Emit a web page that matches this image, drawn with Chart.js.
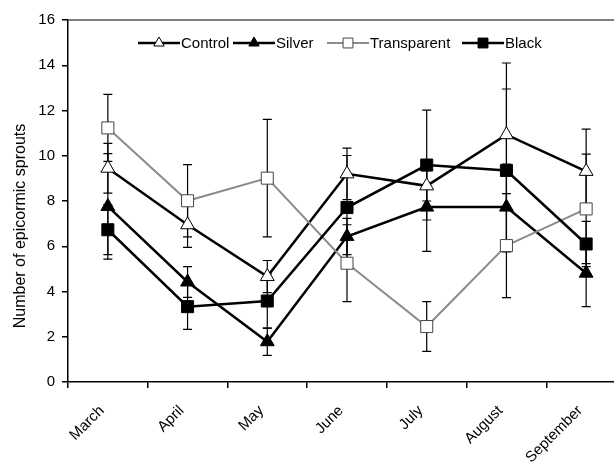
<!DOCTYPE html>
<html>
<head>
<meta charset="utf-8">
<script src="https://cdn.jsdelivr.net/npm/chart.js@4/dist/chart.umd.min.js"></script>
<style>
  html, body { margin: 0; padding: 0; background: #fff; overflow: hidden; width: 614px; height: 463px; }
  canvas { display: block; }
</style>
</head>
<body>
<canvas id="c" width="640" height="463"></canvas>
<script>
const months = ['March', 'April', 'May', 'June', 'July', 'August', 'September'];
const yTicks = [0, 2, 4, 6, 8, 10, 12, 14, 16];
const yTitle = 'Number of epicormic sprouts';

const controlVals = [9.45, 6.95, 4.66, 9.2, 8.67, 10.93, 9.31];
const controlErr  = [1.1, 1.0, 0.71, 1.14, 0.67, 3.17, 1.87];
const silverVals  = [7.76, 4.42, 1.78, 6.43, 7.73, 7.73, 4.81];
const silverErr   = [2.33, 0.68, 0.6, 0.8, 1.96, 1.9, 1.48];
const transpVals  = [11.23, 8.01, 9.01, 5.25, 2.45, 6.03, 7.65];
const transpErr   = [1.48, 1.6, 2.6, 1.7, 1.1, 2.3, 2.42];
const blackVals   = [6.73, 3.33, 3.58, 7.71, 9.59, 9.35, 6.1];
const blackErr    = [1.1, 1.0, 1.2, 2.3, 2.43, 3.6, 1.0];

const FONT = 'Liberation Sans, Arial, sans-serif';

const errorBars = {
  id: 'errorBars',
  beforeDatasetsDraw(chart) {
    const ctx = chart.ctx;
    const ys = chart.scales.y;
    ctx.save();
    ctx.strokeStyle = '#000';
    ctx.lineWidth = 1.2;
    chart.data.datasets.forEach((ds, i) => {
      const meta = chart.getDatasetMeta(i);
      ds.errors.forEach((e, j) => {
        const p = meta.data[j];
        const v = ds.data[j];
        const yt = ys.getPixelForValue(v + e);
        const yb = ys.getPixelForValue(v - e);
        const x = p.x;
        ctx.beginPath();
        ctx.moveTo(x, yt); ctx.lineTo(x, yb);
        ctx.moveTo(x - 4.5, yt); ctx.lineTo(x + 4.5, yt);
        ctx.moveTo(x - 4.5, yb); ctx.lineTo(x + 4.5, yb);
        ctx.stroke();
      });
    });
    ctx.restore();
  }
};

const frame = {
  id: 'frame',
  beforeDatasetsDraw(chart) {
    const { ctx, chartArea: a } = chart;
    ctx.save();
    ctx.strokeStyle = '#555';
    ctx.lineWidth = 1.5;
    ctx.beginPath();
    ctx.moveTo(a.left, a.top);
    ctx.lineTo(a.right, a.top);
    ctx.lineTo(a.right, a.bottom);
    ctx.stroke();
    ctx.restore();
  }
};

const axisTitle = {
  id: 'axisTitle',
  afterDraw(chart) {
    const ctx = chart.ctx;
    const a = chart.chartArea;
    ctx.save();
    ctx.translate(21, (a.top + a.bottom) / 2 + 25);
    ctx.rotate(-Math.PI / 2);
    ctx.font = '16px ' + FONT;
    ctx.fillStyle = '#000';
    ctx.textAlign = 'center';
    ctx.textBaseline = 'middle';
    ctx.fillText(yTitle, 0, 0);
    ctx.restore();
  }
};

function drawMarker(ctx, ds, x, y) {
  const r = ds.pointRadius;
  ctx.save();
  ctx.fillStyle = ds.pointBackgroundColor;
  ctx.strokeStyle = ds.pointBorderColor;
  ctx.lineWidth = ds.pointBorderWidth;
  ctx.beginPath();
  if (ds.pointStyle === 'triangle') {
    let rad = 0;
    ctx.moveTo(x + Math.sin(rad) * r, y - Math.cos(rad) * r);
    rad += 2 * Math.PI / 3;
    ctx.lineTo(x + Math.sin(rad) * r, y - Math.cos(rad) * r);
    rad += 2 * Math.PI / 3;
    ctx.lineTo(x + Math.sin(rad) * r, y - Math.cos(rad) * r);
    ctx.closePath();
  } else {
    const s = r * Math.SQRT1_2;
    ctx.rect(x - s, y - s, 2 * s, 2 * s);
  }
  ctx.fill();
  ctx.stroke();
  ctx.restore();
}

const customLegend = {
  id: 'customLegend',
  afterDraw(chart) {
    const ctx = chart.ctx;
    const starts = [138, 233, 327, 462];
    const y = 43;
    ctx.save();
    ctx.font = '15px ' + FONT;
    ctx.textBaseline = 'middle';
    ctx.fillStyle = '#000';
    chart.data.datasets.forEach((ds, i) => {
      const x0 = starts[i];
      const lw = 42;
      ctx.strokeStyle = ds.borderColor;
      ctx.lineWidth = ds.borderWidth;
      ctx.beginPath();
      ctx.moveTo(x0, y); ctx.lineTo(x0 + lw, y);
      ctx.stroke();
      drawMarker(ctx, Object.assign({}, ds, { pointRadius: ds.pointStyle === 'triangle' ? 6 : 7 }), x0 + lw / 2, y);
      ctx.fillStyle = '#000';
      ctx.fillText(ds.label, x0 + lw + 1, y + 1);
    });
    ctx.restore();
  }
};

function mk(label, data, errors, color, width, style, fill, border, radius, order) {
  return {
    label, data, errors,
    borderColor: color, borderWidth: width,
    pointStyle: style, pointRadius: radius, pointHoverRadius: radius,
    pointBackgroundColor: fill, pointBorderColor: border, pointBorderWidth: 1,
    tension: 0, fill: false, order
  };
}

new Chart(document.getElementById('c'), {
  type: 'line',
  data: {
    labels: months,
    datasets: [
      mk('Control', controlVals, controlErr, '#000', 2.5, 'triangle', '#fff', '#000', 8, 3),
      mk('Silver', silverVals, silverErr, '#000', 2.5, 'triangle', '#000', '#000', 8, 2),
      mk('Transparent', transpVals, transpErr, '#8c8c8c', 2, 'rect', '#fff', '#444', 8.5, 1),
      mk('Black', blackVals, blackErr, '#000', 2.5, 'rect', '#000', '#000', 8.5, 0)
    ]
  },
  options: {
    responsive: false,
    animation: false,
    devicePixelRatio: 1,
    layout: { padding: { left: 0, right: 14, top: 20, bottom: 0 } },
    plugins: { legend: { display: false }, tooltip: { enabled: false } },
    scales: {
      x: {
        type: 'category',
        offset: true,
        grid: { offset: true, drawOnChartArea: false, tickLength: 6, color: '#000', lineWidth: 1.5 },
        border: { display: true, color: '#000', width: 1.5 },
        ticks: { color: '#000', font: { family: FONT, size: 15 }, minRotation: 45, maxRotation: 45, padding: 14, labelOffset: -6 },
        afterFit(s) { s.height = 81; }
      },
      y: {
        min: 0, max: 16,
        afterBuildTicks(s) { s.ticks = yTicks.map(v => ({ value: v })); },
        grid: { drawOnChartArea: false, tickLength: 6, color: '#000', lineWidth: 1.5 },
        border: { display: true, color: '#000', width: 1.5 },
        ticks: { color: '#000', font: { family: FONT, size: 15 }, padding: 7 },
        title: { display: false },
        afterFit(s) { s.width = 68; }
      }
    }
  },
  plugins: [frame, errorBars, customLegend, axisTitle]
});
</script>
</body>
</html>
